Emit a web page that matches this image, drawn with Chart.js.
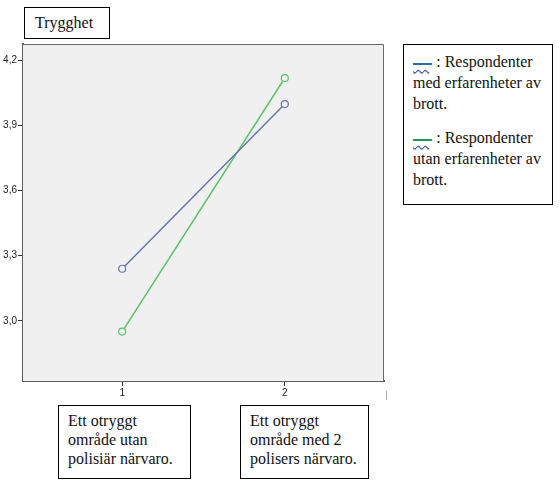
<!DOCTYPE html>
<html>
<head>
<meta charset="utf-8">
<script src="https://cdn.jsdelivr.net/npm/chart.js@4"></script>
<style>
  body { margin: 0; background: #fff; width: 560px; height: 487px; overflow: hidden; position: relative; }
  #wrap { position: absolute; left: 0; top: 0; width: 400px; height: 410px; }
  .box { position: absolute; border: 1px solid #000; background: #fff; box-sizing: border-box;
         font-family: "Liberation Serif", "Times New Roman", serif; font-size: 16px; color: #111; }
  .box p { margin: 0; }
  .dash { letter-spacing: -2.6px; margin-right: 3px; text-shadow: 0 0.5px 0 currentColor;
          text-decoration: underline wavy #3d3dd6; text-decoration-thickness: 1px; text-underline-offset: 2px; }
</style>
</head>
<body>
<div id="wrap"><canvas id="chartdiv"></canvas></div>

<div class="box" style="left:24px;top:7px;width:86px;height:32px;padding:5px 0 0 10px;line-height:19px;">Trygghet</div>

<div class="box" style="left:403px;top:44px;width:150px;height:161px;padding:6px 0 0 9px;line-height:21px;">
  <p><span class="dash" style="color:#2a6aa8">–––</span> : Respondenter</p>
  <p>med erfarenheter av</p>
  <p>brott.</p>
  <p style="margin-top:13px"><span class="dash" style="color:#1f9a55">–––</span> : Respondenter</p>
  <p>utan erfarenheter av</p>
  <p>brott.</p>
</div>

<div class="box" style="left:58px;top:405px;width:133px;height:74px;padding:5px 0 0 9px;line-height:19px;">
  Ett otryggt<br>område utan<br>polisiär närvaro.
</div>
<div class="box" style="left:240px;top:405px;width:129px;height:74px;padding:5px 0 0 9px;line-height:19px;">
  Ett otryggt<br>område med 2<br>polisers närvaro.
</div>
<div style="position:absolute;left:386px;top:391px;width:1px;height:9px;background:#aaa;"></div>

<script>
// data
var groups = [1, 2];
var withCrime = [3.24, 4.00];
var withoutCrime = [2.95, 4.12];
var yTicks = [3.0, 3.3, 3.6, 3.9, 4.2];

// plot background + frame
var frame = {
  id: 'frame',
  beforeDatasetsDraw: function (chart) {
    var a = chart.chartArea, c = chart.ctx;
    c.save();
    c.fillStyle = '#f0f0f0';
    c.fillRect(a.left, a.top, a.right - a.left, a.bottom - a.top);
    c.strokeStyle = '#6a6a6a';
    c.lineWidth = 1;
    c.beginPath();
    c.moveTo(a.left, a.top + 0.5); c.lineTo(a.right - 0.5, a.top + 0.5);
    c.lineTo(a.right - 0.5, a.bottom);
    c.stroke();
    c.restore();
  }
};

var ctx = document.querySelector('#chartdiv');
new Chart(ctx, {
  type: 'line',
  data: {
    datasets: [{
      data: groups.map(function (g, i) { return { x: g, y: withCrime[i] }; }),
      borderColor: '#6b74b4',
      pointBorderColor: '#6b74b4',
      pointBackgroundColor: '#f0f0f0',
      borderWidth: 1.5,
      pointRadius: 3.5,
      pointBorderWidth: 1.2
    }, {
      data: groups.map(function (g, i) { return { x: g, y: withoutCrime[i] }; }),
      borderColor: '#5cc36b',
      pointBorderColor: '#5cc36b',
      pointBackgroundColor: '#f0f0f0',
      borderWidth: 1.5,
      pointRadius: 3.5,
      pointBorderWidth: 1.2
    }]
  },
  options: {
    responsive: true,
    maintainAspectRatio: false,
    animation: false,
    layout: { padding: { top: 44, right: 16, left: 0, bottom: 0 } },
    plugins: { legend: { display: false }, tooltip: { enabled: false } },
    scales: {
      x: {
        type: 'linear', min: 0.39, max: 2.61,
        afterBuildTicks: function (s) { s.ticks = groups.map(function (v) { return { value: v }; }); },
        afterFit: function (s) { s.height = 29; },
        grid: { drawOnChartArea: false, tickLength: 5, color: '#333', tickWidth: 1 },
        border: { color: '#5e5e5e', width: 2 },
        ticks: { color: '#222', padding: 1, font: { family: 'Liberation Sans', size: 10 }, callback: function (v) { return v; } }
      },
      y: {
        min: 2.722, max: 4.277,
        afterBuildTicks: function (s) { s.ticks = yTicks.map(function (v) { return { value: v }; }); },
        afterFit: function (s) { s.width = 23; },
        grid: { drawOnChartArea: false, tickLength: 5, color: '#333', tickWidth: 1 },
        border: { color: '#5e5e5e', width: 2 },
        ticks: { color: '#222', padding: 1, font: { family: 'Liberation Sans', size: 10 },
          callback: function (v) { return v.toFixed(1).replace('.', ','); } }
      }
    }
  },
  plugins: [frame]
});
</script>
</body>
</html>
